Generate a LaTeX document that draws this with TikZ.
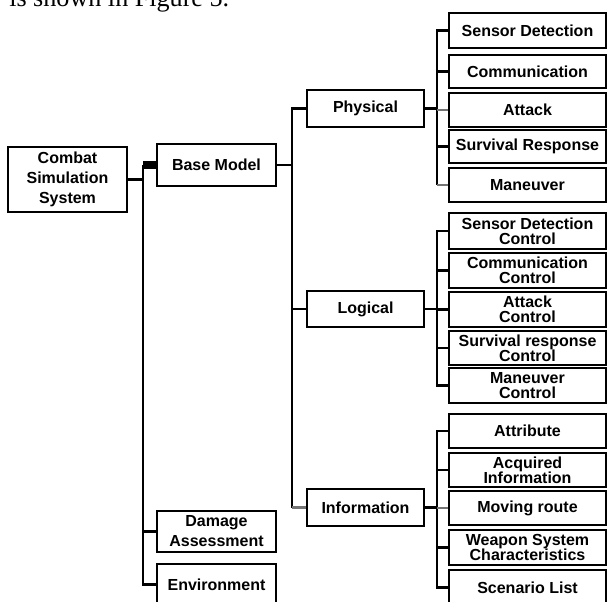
\documentclass[tikz,border=0pt]{standalone}
\usepackage{fontspec}
\setmainfont{Liberation Sans}
\newfontfamily\capfont{Liberation Serif}
\begin{document}
\begin{tikzpicture}[x=0.75pt,y=-0.75pt,
  boxbase/.style={draw=black,line width=1.4pt,fill=white,inner sep=0pt,align=center,
     font=\bfseries\fontsize{12}{11.25}\selectfont},
  lbox/.style={boxbase,minimum width=119*0.75pt,font=\bfseries\fontsize{12}{15}\selectfont},
  mbox/.style={boxbase,minimum width=117*0.75pt},
  rbox/.style={boxbase,minimum width=157*0.75pt},
  bh/.style={minimum height=#1*0.75pt},
  conn/.style={draw=black,line width=1.8pt},
  gconn/.style={draw=black!55,line width=1.8pt},
  thickbar/.style={draw=black,line width=6pt}]
\useasboundingbox (0,0) rectangle (607,602);
\clip (0,0) rectangle (607,602);

\node[anchor=base west,inner sep=0pt,font=\capfont\fontsize{19.6}{20}\selectfont] (cap) at (9,7) {is shown in Figure 5.};

\coordinate (t1) at (143,0);
\coordinate (t2) at (292,0);
\coordinate (t3) at (437,0);

% left column
\node[lbox,bh=65] (css) at (67.5,179.5) {Combat\\Simulation\\System};
\node[lbox,bh=42] (bm) at (216.5,165) {Base Model};
\node[lbox,bh=41] (dam) at (216.5,531.5) {Damage\\Assessment};
\node[lbox,bh=41] (env) at (216.5,584.5) {Environment};

% middle column
\node[mbox,bh=37] (phy) at (365.5,108.5) {Physical};
\node[mbox,bh=36] (log) at (365.5,309) {Logical};
\node[mbox,bh=37] (inf) at (365.5,507.5) {Information};

% right column: physical
\node[rbox,bh=35] (p1) at (527.5,30.5) {Sensor Detection};
\node[rbox,bh=33] (p2) at (527.5,71.5) {Communication};
\node[rbox,bh=34] (p3) at (527.5,110) {Attack};
\node[rbox,bh=33] (p4) at (527.5,146.5) {Survival Response};
\node[rbox,bh=34] (p5) at (527.5,185) {Maneuver};
% logical
\node[rbox,bh=36] (l1) at (527.5,231) {Sensor Detection\\Control};
\node[rbox,bh=35] (l2) at (527.5,270.5) {Communication\\Control};
\node[rbox,bh=35] (l3) at (527.5,309.5) {Attack\\Control};
\node[rbox,bh=34] (l4) at (527.5,348) {Survival response\\Control};
\node[rbox,bh=35] (l5) at (527.5,385.5) {Maneuver\\Control};
% information
\node[rbox,bh=34] (i1) at (527.5,431) {Attribute};
\node[rbox,bh=34] (i2) at (527.5,470) {Acquired\\Information};
\node[rbox,bh=34] (i3) at (527.5,508) {Moving route};
\node[rbox,bh=35] (i4) at (527.5,547.5) {Weapon System\\Characteristics};
\node[rbox,bh=35] (i5) at (527.5,587.5) {Scenario List};

% connectors: root
\draw[conn] (css.east) -- (css.east -| t1);
\draw[conn] (bm.west -| t1) |- (env.west);
\draw[conn] (dam.west -| t1) -- (dam.west);
\draw[thickbar] (bm.west -| t1) -- (bm.west);

% connectors: base model
\draw[conn] (bm.east) -- (bm.east -| t2);
\draw[conn] (phy.west) -- (phy.west -| t2) -- (inf.west -| t2);
\draw[conn] (log.west -| t2) -- (log.west);
\draw[gconn] (inf.west -| t2) -- (inf.west);

% connectors: physical
\draw[conn] (phy.east) -- (phy.east -| t3);
\draw[conn] (p1.west) -- (p1.west -| t3) -- (p5.west -| t3);
\draw[conn] (p2.west -| t3) -- (p2.west);
\draw[gconn] (p3.west -| t3) -- (p3.west);
\draw[conn] (p4.west -| t3) -- (p4.west);
\draw[gconn] (p5.west -| t3) -- (p5.west);

% connectors: logical
\draw[conn] (log.east) -- (log.east -| t3);
\draw[conn] (l1.west) -- (l1.west -| t3) -- (l5.west -| t3) -- (l5.west);
\foreach \c in {l2,l3,l4} \draw[conn] (\c.west -| t3) -- (\c.west);

% connectors: information
\draw[conn] (inf.east) -- (inf.east -| t3);
\draw[conn] (i1.west) -- (i1.west -| t3) -- (i5.west -| t3) -- (i5.west);
\draw[conn] (i2.west -| t3) -- (i2.west);
\draw[gconn] (i3.west -| t3) -- (i3.west);
\draw[conn] (i4.west -| t3) -- (i4.west);
\end{tikzpicture}
\end{document}
